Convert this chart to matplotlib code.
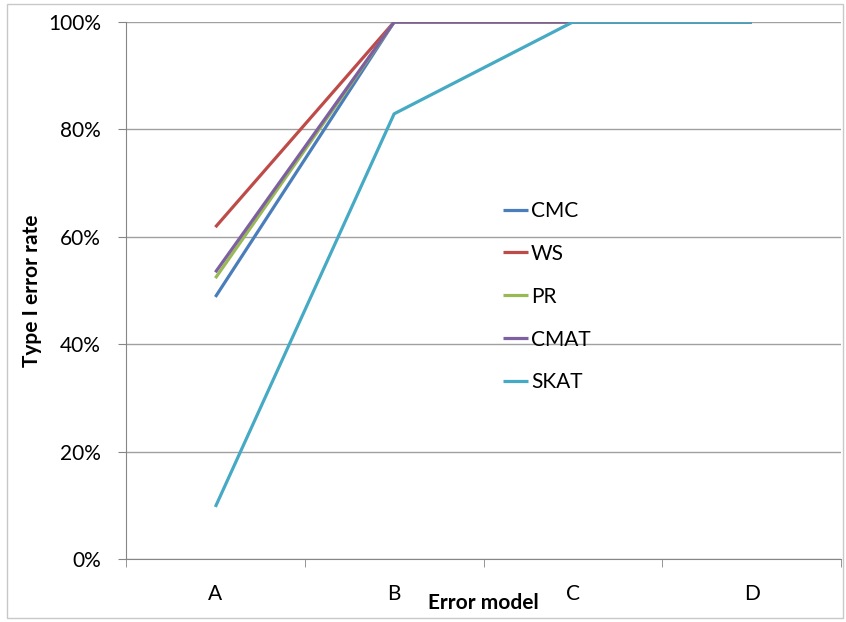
import matplotlib.pyplot as plt
from matplotlib.patches import Rectangle

plt.rcParams['font.family'] = ['Lato', 'DejaVu Sans']

# data
models = ['A', 'B', 'C', 'D']
cmc = [48.8, 100, 100, 100]
ws = [61.8, 100, 100, 100]
pr = [52.3, 100, 100, 100]
cmat = [53.4, 100, 100, 100]
skat = [9.7, 82.9, 100, 100]

series = [('CMC', cmc, '#4A7EBB'), ('WS', ws, '#BE4B48'), ('PR', pr, '#98B954'),
          ('CMAT', cmat, '#7D60A0'), ('SKAT', skat, '#46AAC5')]

fig = plt.figure(figsize=(8.46, 6.22), dpi=100)
ax = fig.add_axes([126/846, 1-559/622, (841-126)/846, (559-22)/622])

x = list(range(len(models)))
handles = []
for name, vals, col in series:
    h, = ax.plot(x, vals, color=col, lw=2.3, solid_capstyle='butt')
    handles.append(h)

ax.set_xlim(-0.5, 3.5)
ax.set_ylim(0, 100)
ax.set_yticks([0, 20, 40, 60, 80, 100])
ax.set_yticklabels(['0%', '20%', '40%', '60%', '80%', '100%'])
ax.set_xticks(x)
ax.set_xticklabels(models)
ax.set_xticks([-0.5, 0.5, 1.5, 2.5, 3.5], minor=True)
ax.tick_params(axis='x', which='major', length=0, pad=18, labelsize=15)
ax.tick_params(axis='x', which='minor', length=6, color='#868686')
ax.tick_params(axis='y', length=6, color='#868686', labelsize=15, pad=12)
ax.grid(axis='y', color='#A0A0A0', lw=1)
ax.set_axisbelow(True)
for s in ['top', 'right']:
    ax.spines[s].set_visible(False)
for s in ['left', 'bottom']:
    ax.spines[s].set_color('#868686')

ax.set_ylabel('Type I error rate', fontsize=15, fontweight='bold', labelpad=4)
ax.set_xlabel('Error model', fontsize=15, fontweight='bold', labelpad=-8)

ax.legend(handles, [s[0] for s in series], loc='upper left',
          bbox_to_anchor=(0.527, 0.667), frameon=False, fontsize=15,
          handlelength=1.2, handletextpad=0.15, labelspacing=1.1,
          borderaxespad=0, borderpad=0)

fig.patches.append(Rectangle((7/846, 4/622), 836/846, 614/622, transform=fig.transFigure,
                             fill=False, edgecolor='#C8C8C8', lw=1))

fig.savefig('out.png', dpi=100)
